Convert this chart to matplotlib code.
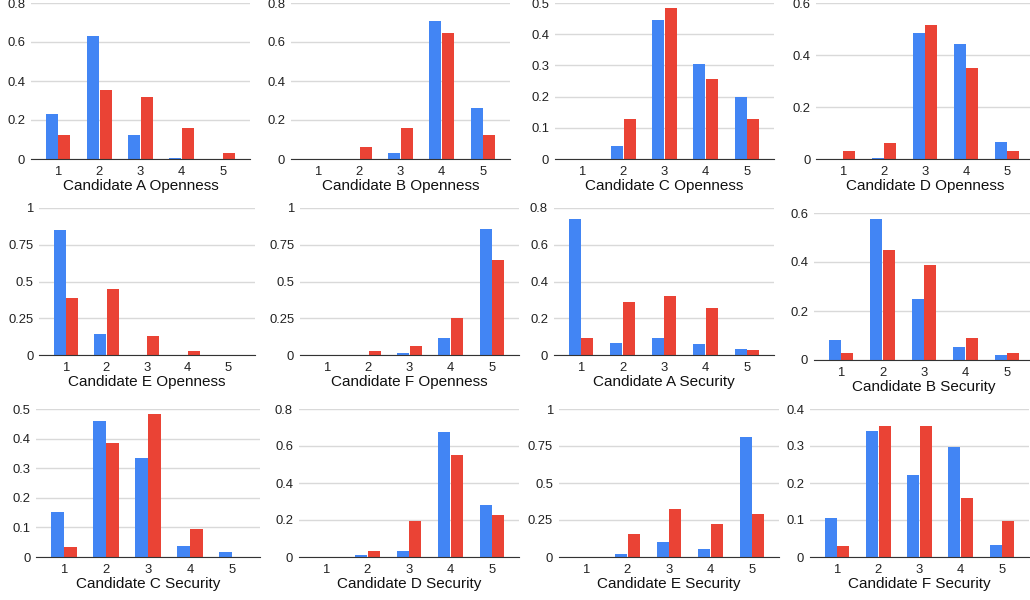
import numpy as np
import matplotlib
matplotlib.use("Agg")
import matplotlib.pyplot as pl
from matplotlib.ticker import FuncFormatter

pl.rcParams['font.family'] = ['Liberation Sans', 'DejaVu Sans']

# answer categories
cats = [1, 2, 3, 4, 5]

# panel titles (x-axis labels)
titles = ["Candidate A Openness", "Candidate B Openness", "Candidate C Openness", "Candidate D Openness",
          "Candidate E Openness", "Candidate F Openness", "Candidate A Security", "Candidate B Security",
          "Candidate C Security", "Candidate D Security", "Candidate E Security", "Candidate F Security"]

# blue series, one list per panel
blue_a_open = [0.23, 0.63, 0.125, 0.007, 0.0]
blue_b_open = [0.0, 0.0, 0.031, 0.706, 0.261]
blue_c_open = [0.0, 0.042, 0.446, 0.306, 0.199]
blue_d_open = [0.0, 0.003, 0.486, 0.442, 0.064]
blue_e_open = [0.853, 0.143, 0.0, 0.0, 0.0]
blue_f_open = [0.0, 0.0, 0.016, 0.116, 0.857]
blue_a_sec = [0.74, 0.067, 0.093, 0.06, 0.034]
blue_b_sec = [0.08, 0.577, 0.25, 0.055, 0.019]
blue_c_sec = [0.151, 0.459, 0.336, 0.036, 0.016]
blue_d_sec = [0.0, 0.009, 0.031, 0.675, 0.28]
blue_e_sec = [0.0, 0.018, 0.104, 0.052, 0.81]
blue_f_sec = [0.105, 0.34, 0.222, 0.298, 0.032]

# red series
red_a_open = [0.125, 0.356, 0.32, 0.16, 0.03]
red_b_open = [0.0, 0.062, 0.16, 0.646, 0.125]
red_c_open = [0.0, 0.128, 0.483, 0.256, 0.128]
red_d_open = [0.03, 0.06, 0.517, 0.351, 0.03]
red_e_open = [0.385, 0.447, 0.129, 0.03, 0.0]
red_f_open = [0.0, 0.03, 0.064, 0.254, 0.644]
red_a_sec = [0.093, 0.289, 0.321, 0.256, 0.029]
red_b_sec = [0.027, 0.45, 0.386, 0.091, 0.027]
red_c_sec = [0.033, 0.386, 0.482, 0.095, 0.0]
red_d_sec = [0.0, 0.031, 0.195, 0.55, 0.226]
red_e_sec = [0.0, 0.158, 0.323, 0.223, 0.291]
red_f_sec = [0.031, 0.354, 0.354, 0.16, 0.0975]

blues = [blue_a_open, blue_b_open, blue_c_open, blue_d_open, blue_e_open, blue_f_open,
         blue_a_sec, blue_b_sec, blue_c_sec, blue_d_sec, blue_e_sec, blue_f_sec]
reds = [red_a_open, red_b_open, red_c_open, red_d_open, red_e_open, red_f_open,
        red_a_sec, red_b_sec, red_c_sec, red_d_sec, red_e_sec, red_f_sec]

# y-axis max and tick step per panel
ymax = [0.8, 0.8, 0.5, 0.6, 1.0, 1.0, 0.8, 0.6, 0.5, 0.8, 1.0, 0.4]
ystep = [0.2, 0.2, 0.1, 0.2, 0.25, 0.25, 0.2, 0.2, 0.1, 0.2, 0.25, 0.1]

#layout in pixels: x of tick "1", x of tick "5", top gridline, baseline
W, H = 1030, 600
tick1 = [58, 318, 582, 843, 66, 327, 581, 841, 64, 326, 586, 837]
tick5 = [223, 483, 747, 1007, 228, 492, 747, 1007, 232, 492, 752, 1002]
tops = [3, 3, 3, 3, 208, 208, 208, 213, 409, 409, 409, 409]
bots = [159, 159, 159, 159, 355, 355, 355, 360, 557, 557, 557, 557]

BLUE = "#4285F4"
RED = "#EA4335"
margin = 0.66
bw = 0.29

fig = pl.figure(figsize=(W/100, H/100), dpi=100)
fmt = FuncFormatter(lambda v, p: "%g" % round(v, 2))

for i in range(12):
    sp = (tick5[i]-tick1[i])/4.0
    left = tick1[i]-margin*sp
    right = tick5[i]+margin*sp
    ax = fig.add_axes([left/W, 1-bots[i]/H, (right-left)/W, (bots[i]-tops[i])/H])
    x = np.array(cats)
    ax.bar(x-bw/2-0.01, blues[i], width=bw, color=BLUE, zorder=3)
    ax.bar(x+bw/2+0.01, reds[i], width=bw, color=RED, zorder=3)
    ax.set_xlim(1-margin, 5+margin)
    ax.set_ylim(0, ymax[i])
    ax.set_yticks(np.arange(0, ymax[i]+1e-6, ystep[i]))
    ax.yaxis.set_major_formatter(fmt)
    ax.set_xticks(cats)
    ax.grid(axis="y", color="#d9d9d9", lw=1, zorder=0)
    for s in ["top", "right", "left"]:
        ax.spines[s].set_visible(False)
    ax.spines["bottom"].set_color("#333333")
    ax.spines["bottom"].set_zorder(4)
    ax.tick_params(axis="both", length=0, labelsize=9.4, colors="#222222")
    ax.tick_params(axis="x", pad=5)
    ax.tick_params(axis="y", pad=4)
    ax.set_xlabel(titles[i], fontsize=11, labelpad=1, color="#111111")

pl.savefig("out.png", dpi=100)
